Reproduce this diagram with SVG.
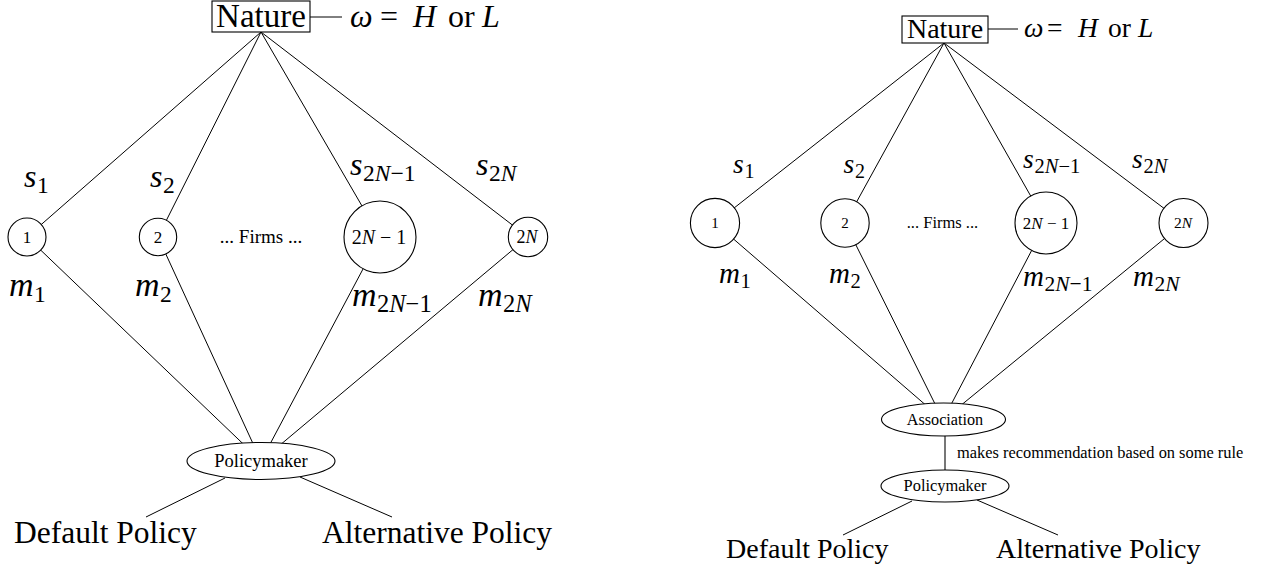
<svg xmlns="http://www.w3.org/2000/svg" width="1262" height="569" viewBox="0 0 1262 569" font-family="'Liberation Serif', 'Times New Roman', 'DejaVu Serif', serif">
<style>
text, tspan{font-family:'Liberation Serif','Times New Roman','DejaVu Serif',serif;fill:#000}
.ln{stroke:#000;stroke-width:1;fill:none}
.nd{stroke:#000;stroke-width:1.1;fill:#fff}
.i{font-style:italic}
.c{text-anchor:middle}
</style>
<rect width="1262" height="569" fill="#fff"/>
<g id="connectors">
  <line class="ln" x1="261" y1="32" x2="27" y2="237"/>
  <line class="ln" x1="261" y1="32" x2="158" y2="237"/>
  <line class="ln" x1="261" y1="32" x2="380" y2="237"/>
  <line class="ln" x1="261" y1="32" x2="528" y2="237"/>
  <line class="ln" x1="27" y1="237" x2="261" y2="461"/>
  <line class="ln" x1="158" y1="237" x2="261" y2="461"/>
  <line class="ln" x1="380" y1="237" x2="261" y2="461"/>
  <line class="ln" x1="528" y1="237" x2="261" y2="461"/>
  <line class="ln" x1="225" y1="478" x2="146" y2="517"/>
  <line class="ln" x1="300" y1="477" x2="392" y2="517"/>
  <line class="ln" x1="310" y1="17" x2="342" y2="17"/>
  <line class="ln" x1="944" y1="43" x2="715" y2="223"/>
  <line class="ln" x1="944" y1="43" x2="845" y2="223"/>
  <line class="ln" x1="944" y1="43" x2="1046" y2="223"/>
  <line class="ln" x1="944" y1="43" x2="1183.5" y2="223"/>
  <line class="ln" x1="715" y1="223" x2="943" y2="420"/>
  <line class="ln" x1="845" y1="223" x2="943" y2="420"/>
  <line class="ln" x1="1046" y1="223" x2="943" y2="420"/>
  <line class="ln" x1="1183.5" y1="223" x2="943" y2="420"/>
  <line x1="945" y1="436" x2="945" y2="470" stroke="#555" stroke-width="1.6"/>
  <line class="ln" x1="912" y1="501" x2="843" y2="535"/>
  <line class="ln" x1="977" y1="500" x2="1058" y2="535"/>
  <line class="ln" x1="988" y1="29" x2="1018" y2="29"/>
</g>
<g id="edge-labels">
  <text font-size="32"><tspan class="i" x="24" y="187">s</tspan><tspan font-size="23.5" x="37" y="193">1</tspan></text>
  <text font-size="32"><tspan class="i" x="150" y="187">s</tspan><tspan font-size="23.5" x="163" y="193">2</tspan></text>
  <text font-size="32"><tspan class="i" x="350" y="175">s</tspan><tspan font-size="23.5" x="363" y="181">2<tspan class="i">N</tspan>−1</tspan></text>
  <text font-size="32"><tspan class="i" x="476" y="175">s</tspan><tspan font-size="23.5" x="489" y="181">2<tspan class="i">N</tspan></tspan></text>
  <text font-size="34"><tspan class="i" x="9" y="296">m</tspan><tspan font-size="23.5" x="34" y="302">1</tspan></text>
  <text font-size="34"><tspan class="i" x="135" y="296">m</tspan><tspan font-size="23.5" x="160" y="302">2</tspan></text>
  <text font-size="34"><tspan class="i" x="352" y="306">m</tspan><tspan font-size="24.5" x="377" y="312">2<tspan class="i">N</tspan>−1</tspan></text>
  <text font-size="34"><tspan class="i" x="478" y="306">m</tspan><tspan font-size="24.5" x="503" y="312">2<tspan class="i">N</tspan></tspan></text>
  <text font-size="27.5"><tspan class="i" x="733" y="173">s</tspan><tspan font-size="20" x="744.5" y="178">1</tspan></text>
  <text font-size="27.5"><tspan class="i" x="843.5" y="173">s</tspan><tspan font-size="20" x="855" y="178">2</tspan></text>
  <text font-size="27.5"><tspan class="i" x="1023" y="168">s</tspan><tspan font-size="20.5" x="1034.5" y="173">2<tspan class="i">N</tspan>−1</tspan></text>
  <text font-size="27.5"><tspan class="i" x="1132" y="168">s</tspan><tspan font-size="20.5" x="1143.5" y="173">2<tspan class="i">N</tspan></tspan></text>
  <text font-size="29"><tspan class="i" x="719" y="283">m</tspan><tspan font-size="20.5" x="740.5" y="288">1</tspan></text>
  <text font-size="29"><tspan class="i" x="829" y="283">m</tspan><tspan font-size="20.5" x="850.5" y="288">2</tspan></text>
  <text font-size="29"><tspan class="i" x="1023" y="286">m</tspan><tspan font-size="21.5" x="1044.5" y="291">2<tspan class="i">N</tspan>−1</tspan></text>
  <text font-size="29"><tspan class="i" x="1133" y="286">m</tspan><tspan font-size="21.5" x="1154.5" y="291">2<tspan class="i">N</tspan></tspan></text>
  <text font-size="32"><tspan class="i" x="350" y="27">ω</tspan><tspan x="380" y="27">=</tspan><tspan class="i" x="413" y="27">H</tspan><tspan x="448" y="27">or</tspan><tspan class="i" x="482" y="27">L</tspan></text>
  <text font-size="27.5"><tspan class="i" x="1024" y="37">ω</tspan><tspan x="1047" y="37">=</tspan><tspan class="i" x="1078" y="37">H</tspan><tspan x="1108" y="37">or</tspan><tspan class="i" x="1138" y="37">L</tspan></text>
  <text x="957" y="458" font-size="16.4">makes recommendation based on some rule</text>
</g>
<g id="left-nature">
  <rect class="nd" x="212" y="1" width="98" height="31"/>
  <text class="c" x="261" y="27" font-size="33">Nature</text>
</g>
<g id="left-firm-1"><circle class="nd" cx="27" cy="237" r="19"/><text class="c" x="27" y="243" font-size="17">1</text></g>
<g id="left-firm-2"><circle class="nd" cx="158" cy="237" r="18.7"/><text class="c" x="158" y="243" font-size="17">2</text></g>
<g id="left-firms-dots"><text class="c" x="261" y="243" font-size="19">... Firms ...</text></g>
<g id="left-firm-2n-1"><circle class="nd" cx="380" cy="237" r="36"/><text class="c" x="379" y="244" font-size="20">2<tspan class="i">N</tspan> − 1</text></g>
<g id="left-firm-2n"><circle class="nd" cx="528" cy="237" r="19.7"/><text class="c" x="527" y="243" font-size="18">2<tspan class="i">N</tspan></text></g>
<g id="left-policymaker"><ellipse class="nd" cx="261" cy="461" rx="74" ry="18.5"/><text class="c" x="261" y="467" font-size="18.5">Policymaker</text></g>
<g id="left-default"><text x="14" y="543" font-size="31.5">Default Policy</text></g>
<g id="left-alternative"><text x="322" y="543" font-size="31.5">Alternative Policy</text></g>
<g id="right-nature">
  <rect class="nd" x="902" y="16" width="86" height="27"/>
  <text class="c" x="945" y="38" font-size="28">Nature</text>
</g>
<g id="right-firm-1"><circle class="nd" cx="715" cy="223" r="24.6"/><text class="c" x="715" y="228" font-size="15">1</text></g>
<g id="right-firm-2"><circle class="nd" cx="845" cy="223" r="24.2"/><text class="c" x="845" y="228" font-size="15">2</text></g>
<g id="right-firms-dots"><text class="c" x="942.5" y="228" font-size="16.5">... Firms ...</text></g>
<g id="right-firm-2n-1"><circle class="nd" cx="1046" cy="223" r="31"/><text class="c" x="1046" y="229" font-size="17">2<tspan class="i">N</tspan> − 1</text></g>
<g id="right-firm-2n"><circle class="nd" cx="1183.5" cy="223" r="24.5"/><text class="c" x="1183" y="228" font-size="15.5">2<tspan class="i">N</tspan></text></g>
<g id="right-association"><ellipse class="nd" cx="943.5" cy="419.5" rx="62" ry="16.5"/><text class="c" x="945" y="425" font-size="16.2">Association</text></g>
<g id="right-policymaker"><ellipse class="nd" cx="945" cy="486" rx="64" ry="16"/><text class="c" x="945" y="491" font-size="16.4">Policymaker</text></g>
<g id="right-default"><text x="726" y="558" font-size="28">Default Policy</text></g>
<g id="right-alternative"><text x="996" y="558" font-size="28">Alternative Policy</text></g>
</svg>
